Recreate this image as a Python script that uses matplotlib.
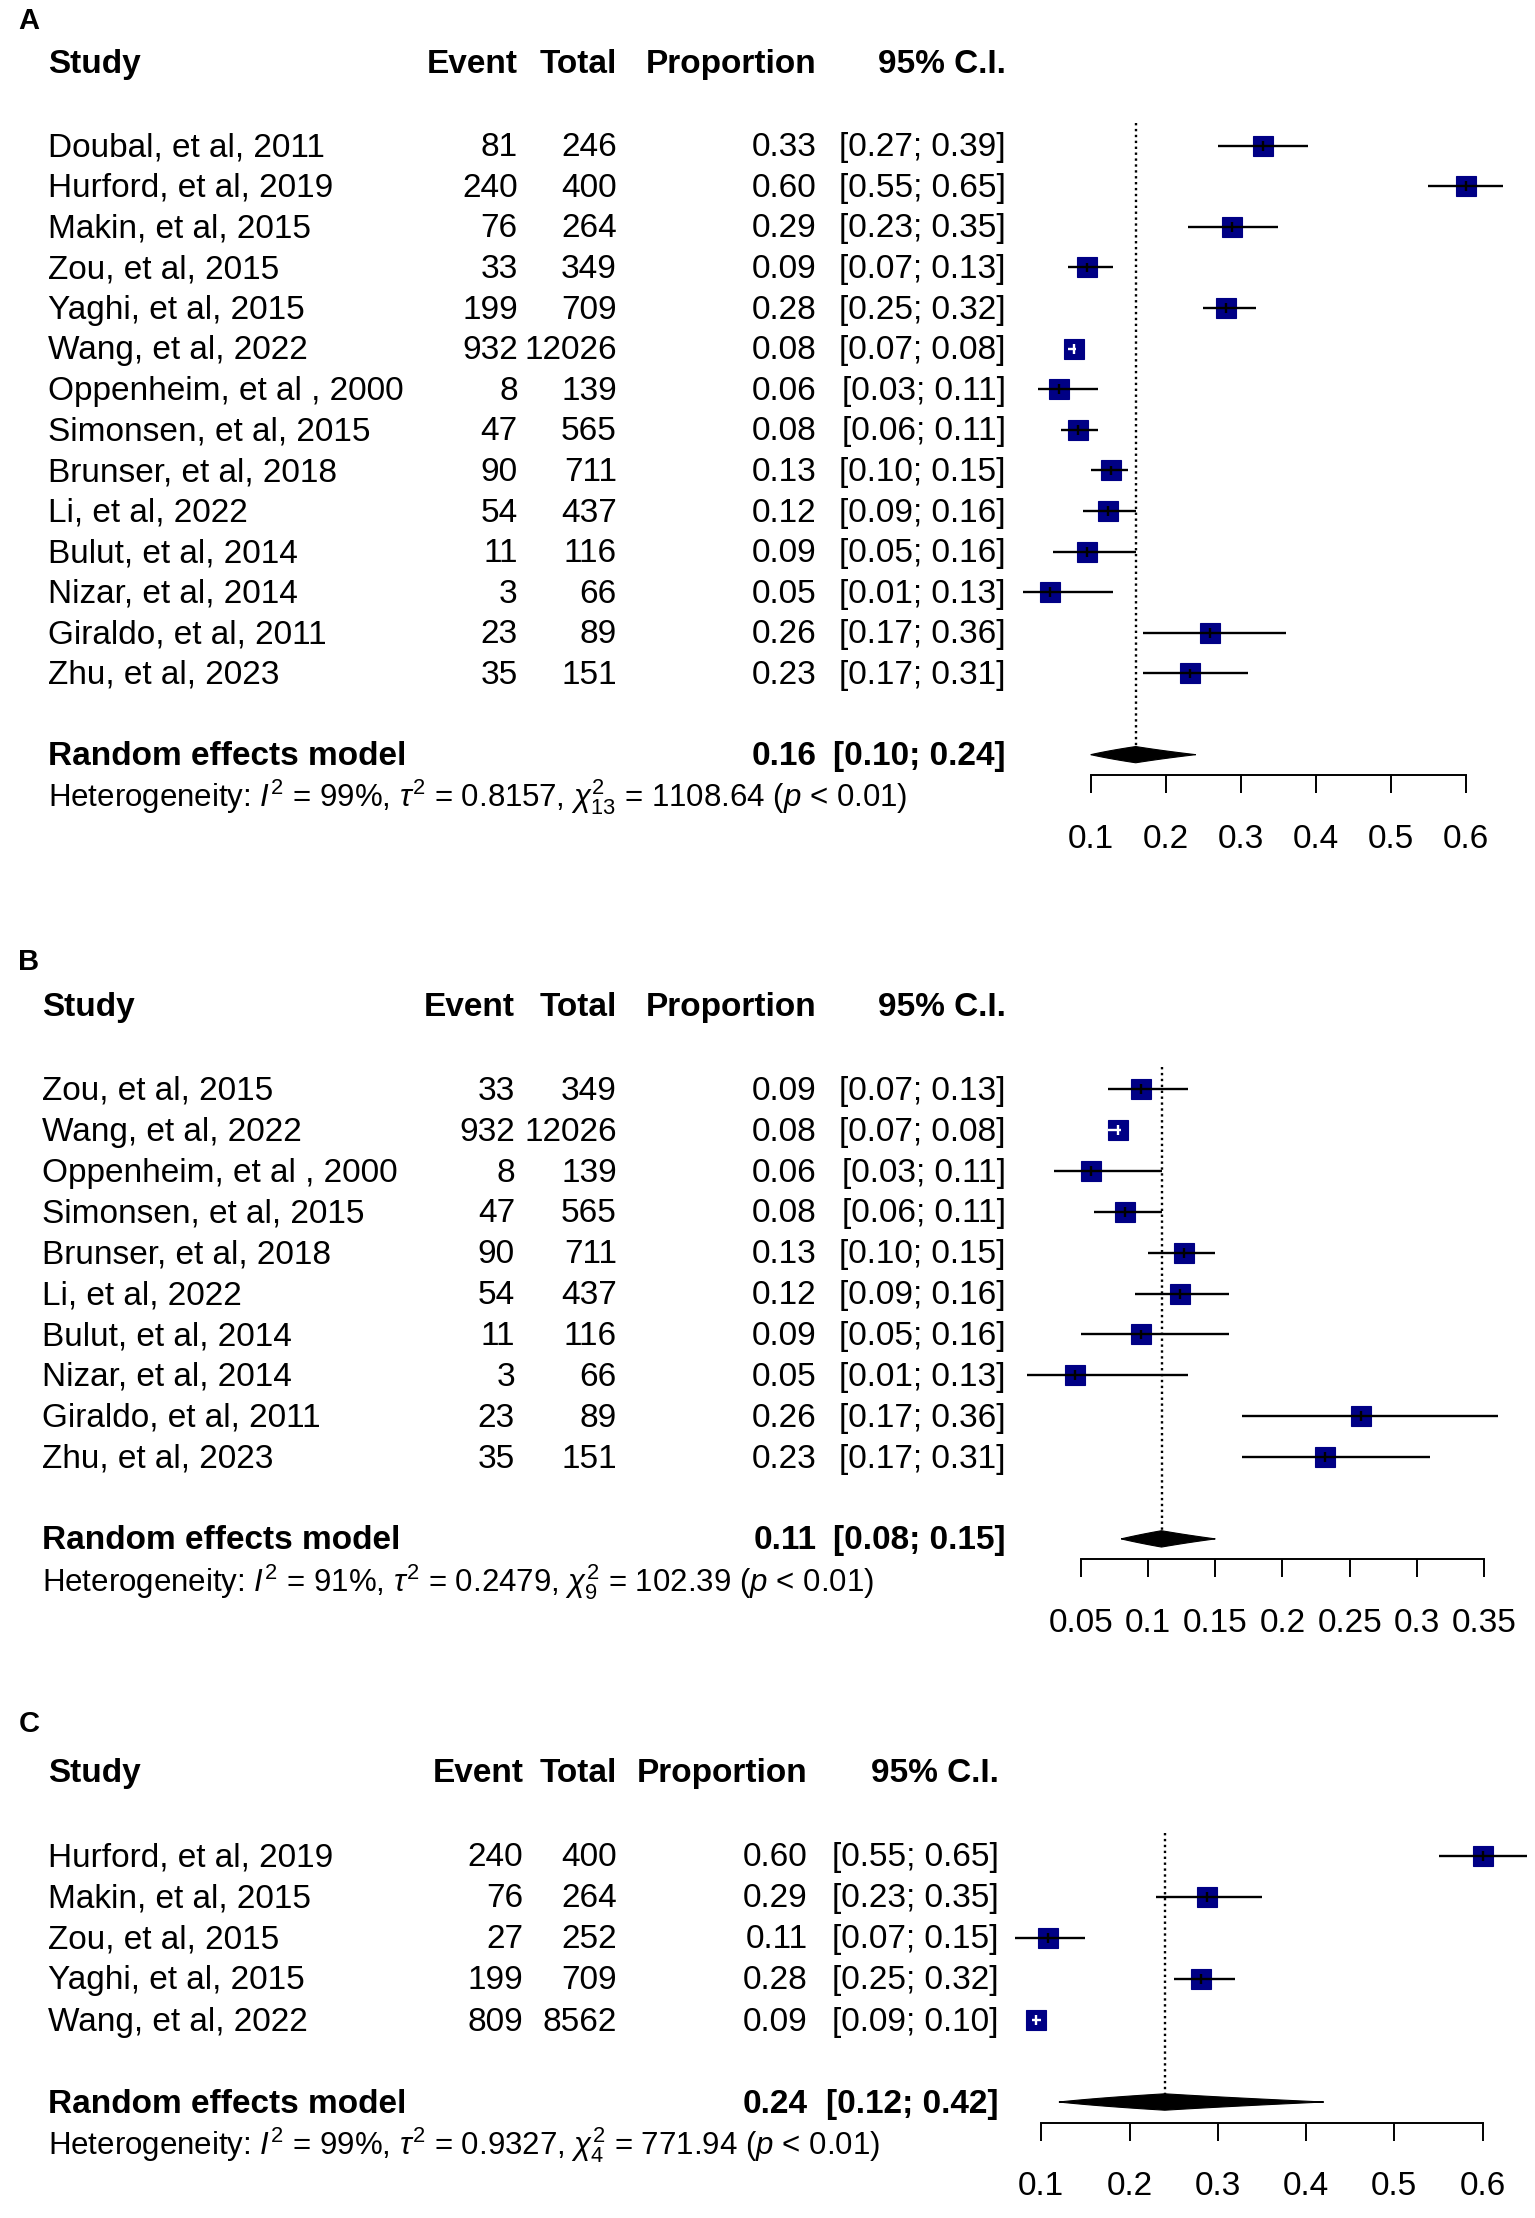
import numpy as np
import matplotlib
matplotlib.use("Agg")
import matplotlib.pyplot as plt
from matplotlib.transforms import blended_transform_factory
from matplotlib.patches import Polygon

plt.rcParams['font.family'] = ['Liberation Sans', 'DejaVu Sans']
plt.rcParams['mathtext.fontset'] = 'custom'
plt.rcParams['mathtext.rm'] = 'Liberation Sans'
plt.rcParams['mathtext.it'] = 'Liberation Sans:italic'
plt.rcParams['mathtext.bf'] = 'Liberation Sans:bold'

# ---- Pannello A
studies_a = ["Doubal, et al, 2011", "Hurford, et al, 2019", "Makin, et al, 2015",
             "Zou, et al, 2015", "Yaghi, et al, 2015", "Wang, et al, 2022",
             "Oppenheim, et al , 2000", "Simonsen, et al, 2015", "Brunser, et al, 2018",
             "Li, et al, 2022", "Bulut, et al, 2014", "Nizar, et al, 2014",
             "Giraldo, et al, 2011", "Zhu, et al, 2023"]
events_a = [81, 240, 76, 33, 199, 932, 8, 47, 90, 54, 11, 3, 23, 35]
totals_a = [246, 400, 264, 349, 709, 12026, 139, 565, 711, 437, 116, 66, 89, 151]
prop_a = [0.33, 0.60, 0.29, 0.09, 0.28, 0.08, 0.06, 0.08, 0.13, 0.12, 0.09, 0.05, 0.26, 0.23]
lo_a = [0.27, 0.55, 0.23, 0.07, 0.25, 0.07, 0.03, 0.06, 0.10, 0.09, 0.05, 0.01, 0.17, 0.17]
hi_a = [0.39, 0.65, 0.35, 0.13, 0.32, 0.08, 0.11, 0.11, 0.15, 0.16, 0.16, 0.13, 0.36, 0.31]
pooled_a = [0.16, 0.10, 0.24]
het_a = ["99%", "0.8157", "13", "1108.64"]
ticks_a = [0.1, 0.2, 0.3, 0.4, 0.5, 0.6]
tick_labels_a = ["0.1", "0.2", "0.3", "0.4", "0.5", "0.6"]

# ---- Pannello B
studies_b = ["Zou, et al, 2015", "Wang, et al, 2022", "Oppenheim, et al , 2000",
             "Simonsen, et al, 2015", "Brunser, et al, 2018", "Li, et al, 2022",
             "Bulut, et al, 2014", "Nizar, et al, 2014", "Giraldo, et al, 2011",
             "Zhu, et al, 2023"]
events_b = [33, 932, 8, 47, 90, 54, 11, 3, 23, 35]
totals_b = [349, 12026, 139, 565, 711, 437, 116, 66, 89, 151]
prop_b = [0.09, 0.08, 0.06, 0.08, 0.13, 0.12, 0.09, 0.05, 0.26, 0.23]
lo_b = [0.07, 0.07, 0.03, 0.06, 0.10, 0.09, 0.05, 0.01, 0.17, 0.17]
hi_b = [0.13, 0.08, 0.11, 0.11, 0.15, 0.16, 0.16, 0.13, 0.36, 0.31]
pooled_b = [0.11, 0.08, 0.15]
het_b = ["91%", "0.2479", "9", "102.39"]
ticks_b = [0.05, 0.1, 0.15, 0.2, 0.25, 0.3, 0.35]
tick_labels_b = ["0.05", "0.1", "0.15", "0.2", "0.25", "0.3", "0.35"]

# ---- Pannello C
studies_c = ["Hurford, et al, 2019", "Makin, et al, 2015", "Zou, et al, 2015",
             "Yaghi, et al, 2015", "Wang, et al, 2022"]
events_c = [240, 76, 27, 199, 809]
totals_c = [400, 264, 252, 709, 8562]
prop_c = [0.60, 0.29, 0.11, 0.28, 0.09]
lo_c = [0.55, 0.23, 0.07, 0.25, 0.09]
hi_c = [0.65, 0.35, 0.15, 0.32, 0.10]
pooled_c = [0.24, 0.12, 0.42]
het_c = ["99%", "0.9327", "4", "771.94"]
ticks_c = [0.1, 0.2, 0.3, 0.4, 0.5, 0.6]
tick_labels_c = ["0.1", "0.2", "0.3", "0.4", "0.5", "0.6"]

# coordinate di riferimento (immagine ridotta 1085 x 1568)
W, H = 1085.0, 1568.0
FS = 24
SQ_COL = "#000085"
SQ_SIZE = 15  # pt
TY = 0.05     # piccolo spostamento verticale del testo


def logit(p):
    return np.log(p / (1 - p))


def draw_panel(fig, letter, lay, studies, events, totals, prop, lo, hi,
               pooled, het, ticks, tick_labels):
    n = len(studies)
    row0, dy = lay["row0"], lay["dy"]
    top = row0 - 2.5 * dy
    bottom = row0 + (n + 3.5) * dy
    ax = fig.add_axes([lay["x_lo"] / W, 1 - bottom / H,
                       (lay["x_hi"] - lay["x_lo"]) / W, (bottom - top) / H])
    ax.set_xlim(ticks[0], ticks[-1])
    ax.set_ylim(n + 3.5, -2.5)
    ax.patch.set_alpha(0)
    for s in ["top", "right", "left"]:
        ax.spines[s].set_visible(False)
    ax.spines["bottom"].set_position(("data", n + 1.5))
    ax.spines["bottom"].set_bounds(ticks[0], ticks[-1])
    ax.spines["bottom"].set_linewidth(1.4)
    ax.set_yticks([])
    ax.set_xticks(ticks)
    ax.set_xticklabels(tick_labels)
    ax.tick_params(axis="x", direction="out", length=13, width=1.4,
                   pad=22, labelsize=FS)

    tr = blended_transform_factory(fig.transFigure, ax.transData)
    txt = dict(transform=tr, fontsize=FS, va="center")

    # intestazioni
    ax.text(lay["study_x"] / W, -2, "Study", ha="left", fontweight="bold", **txt)
    ax.text(lay["event_r"] / W, -2, "Event", ha="right", fontweight="bold", **txt)
    ax.text(lay["total_r"] / W, -2, "Total", ha="right", fontweight="bold", **txt)
    ax.text(lay["prop_r"] / W, -2, "Proportion", ha="right", fontweight="bold", **txt)
    ax.text(lay["ci_r"] / W, -2, "95% C.I.", ha="right", fontweight="bold", **txt)
    fig.text(13 / W, 1 - lay["letter_y"] / H, letter, fontsize=21,
             fontweight="bold", ha="left", va="center")

    # larghezza del quadrato in unita' dati
    ax_w_px = (lay["x_hi"] - lay["x_lo"]) / W * fig.get_figwidth() * fig.dpi
    sq_w = SQ_SIZE * fig.dpi / 72.0 * (ticks[-1] - ticks[0]) / ax_w_px

    for i in range(n):
        est = events[i] / totals[i]
        yt = i + TY
        ax.text(lay["study_x"] / W, yt, studies[i], ha="left", **txt)
        ax.text(lay["event_r"] / W, yt, str(events[i]), ha="right", **txt)
        ax.text(lay["total_r"] / W, yt, str(totals[i]), ha="right", **txt)
        ax.text(lay["prop_r"] / W, yt, f"{prop[i]:.2f}", ha="right", **txt)
        ax.text(lay["ci_r"] / W, yt, f"[{lo[i]:.2f}; {hi[i]:.2f}]", ha="right", **txt)

        ax.plot([est], [i], marker="s", ms=SQ_SIZE, mfc=SQ_COL, mec=SQ_COL,
                mew=0.8, zorder=3, clip_on=False)
        col = "white" if (hi[i] - lo[i]) < sq_w else "black"
        ax.plot([lo[i], hi[i]], [i, i], color=col, lw=1.7, zorder=4,
                clip_on=False, solid_capstyle="butt")
        ax.plot([est, est], [i - 0.12, i + 0.12], color=col, lw=1.7,
                zorder=4, clip_on=False, solid_capstyle="butt")

    # modello a effetti casuali
    ys = n + 1
    est, plo, phi = pooled
    ax.text(lay["study_x"] / W, ys + TY, "Random effects model", ha="left",
            fontweight="bold", **txt)
    ax.text(lay["prop_r"] / W, ys + TY, f"{est:.2f}", ha="right", fontweight="bold", **txt)
    ax.text(lay["ci_r"] / W, ys + TY, f"[{plo:.2f}; {phi:.2f}]", ha="right",
            fontweight="bold", **txt)

    # diamante (scala logit riportata su scala lineare)
    t = np.linspace(logit(plo), logit(phi), 200)
    tc = logit(est)
    frac = np.where(t <= tc, (t - logit(plo)) / (tc - logit(plo)),
                    (logit(phi) - t) / (logit(phi) - tc))
    xs = 1 / (1 + np.exp(-t))
    hh = 0.2 * frac
    poly = np.column_stack([np.concatenate([xs, xs[::-1]]),
                            np.concatenate([ys - hh, (ys + hh)[::-1]])])
    ax.add_patch(Polygon(poly, closed=True, fc="black", ec="black", lw=0.8,
                         zorder=4, clip_on=False))

    ax.plot([est, est], [-0.55, ys], color="black", lw=1.7,
            linestyle=(0, (1, 1.5)), zorder=2, clip_on=False)

    i2, tau2, dfree, q = het
    het_txt = (r"Heterogeneity: $I^2$ = " + i2 + r", $\tau^2$ = " + tau2
               + r", $\chi^2_{" + dfree + "}$ = " + q + r" ($p$ < 0.01)")
    ax.text(lay["study_x"] / W, ys + 1 + TY, het_txt, transform=tr, fontsize=22.5,
            ha="left", va="center")
    return ax


fig = plt.figure(figsize=(15.35, 22.18), dpi=100)

lay_a = dict(letter_y=15, row0=103, dy=28.7, x_lo=771, x_hi=1036, study_x=34,
             event_r=366, total_r=436, prop_r=577, ci_r=711)
lay_b = dict(letter_y=680, row0=770, dy=28.9, x_lo=764, x_hi=1049, study_x=30,
             event_r=364, total_r=436, prop_r=577, ci_r=711)
lay_c = dict(letter_y=1219, row0=1312, dy=29.0, x_lo=736, x_hi=1048, study_x=34,
             event_r=370, total_r=436, prop_r=571, ci_r=706)

draw_panel(fig, "A", lay_a, studies_a, events_a, totals_a, prop_a, lo_a, hi_a,
           pooled_a, het_a, ticks_a, tick_labels_a)
draw_panel(fig, "B", lay_b, studies_b, events_b, totals_b, prop_b, lo_b, hi_b,
           pooled_b, het_b, ticks_b, tick_labels_b)
draw_panel(fig, "C", lay_c, studies_c, events_c, totals_c, prop_c, lo_c, hi_c,
           pooled_c, het_c, ticks_c, tick_labels_c)

fig.savefig("out.png", dpi=100)
